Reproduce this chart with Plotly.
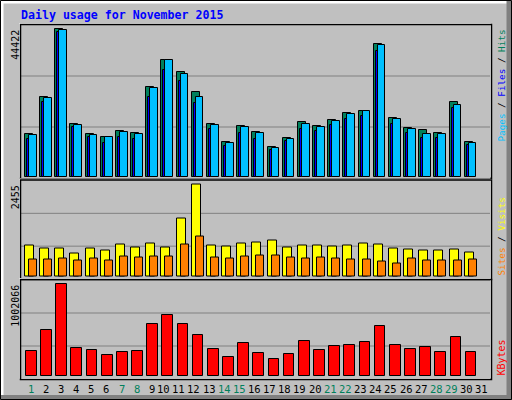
import datetime
import plotly.graph_objects as go

# ---------------- data ----------------
days = list(range(1, 32))
day_labels = [str(d) for d in days]
data_days = list(range(1, 31))

hits = [12760, 23920, 44422, 15780, 12760, 11960, 13670, 13070, 26930, 35080,
        31560, 25430, 15780, 10350, 15180, 13370, 8950, 11660, 16380, 15180,
        16990, 19100, 19700, 40000, 17590, 14570, 13970, 13070, 22410, 10350]
files = [11360, 22410, 43520, 14870, 11860, 10050, 11860, 11260, 23920, 32160,
         28740, 22110, 14270, 9150, 13070, 11260, 7940, 10650, 14270, 13670,
         15480, 17290, 18190, 37890, 15780, 13070, 11560, 11560, 20600, 9450]
pages = [12460, 23620, 44300, 15480, 12460, 11960, 13370, 12760, 26630, 35070,
         30850, 23920, 15480, 10050, 14870, 13070, 8640, 11260, 15780, 14870,
         16680, 18790, 19700, 39700, 17290, 14270, 12760, 12760, 21510, 10050]
visits = [827, 747, 747, 614, 747, 694, 854, 774, 881, 774,
          1548, 2455, 827, 801, 881, 907, 961, 774, 827, 827,
          801, 827, 881, 854, 747, 721, 694, 694, 721, 640]
sites = [454, 454, 480, 427, 480, 427, 534, 507, 534, 534,
         854, 1067, 507, 480, 534, 547, 560, 507, 480, 507,
         480, 454, 454, 400, 347, 480, 427, 427, 427, 454]
kbytes = [266956, 497400, 1002066, 299900, 277950, 223100, 256000, 266960, 563200, 661950,
          563200, 442500, 288900, 201150, 354750, 245000, 179200, 234050, 376700, 277950,
          321800, 332800, 365700, 541250, 332800, 288900, 310850, 256000, 420600, 256000]

title_text = "Daily usage for November 2015"

# ---------------- geometry helpers ----------------
W, H = 512, 400
PX0, PX1 = 21, 491
SLOT = (PX1 - PX0) / 31.0


def px(x):
    return x / W


def py(y):
    return 1 - y / H


def u(pixels):
    return pixels / SLOT


def axis_range(maxval, top, bottom, base, maxtop):
    scale = maxval / (base - maxtop)
    return [-(bottom - base) * scale, (base - top) * scale]


panels = {
    "y": dict(top=25, bottom=178, base=176.7, maxtop=29.3, maxval=max(hits)),
    "y2": dict(top=180.5, bottom=279, base=276.3, maxtop=184.3, maxval=max(visits)),
    "y3": dict(top=280, bottom=379, base=375.7, maxtop=284.3, maxval=max(kbytes)),
}

GREEN = "#00805C"
BLUE = "#0000FF"
CYAN = "#00C0FF"
YELLOW = "#FFFF00"
ORANGE = "#FF8000"
RED = "#FF0000"
BG = "#C0C0C0"
GRID = "#808080"
MONO = "DejaVu Sans Mono"

fig = go.Figure()
line = dict(color="black", width=1)


def add_bar(y, color, yaxis, left_px, width_px):
    fig.add_trace(go.Bar(
        x=data_days, y=y, yaxis=yaxis, xaxis="x",
        marker=dict(color=color, line=line),
        width=u(width_px), offset=u(left_px - SLOT / 2),
        showlegend=False, hoverinfo="skip"))


add_bar(hits, GREEN, "y", 4, 8)
add_bar(files, BLUE, "y", 6, 8)
add_bar(pages, CYAN, "y", 8, 7.7)
add_bar(visits, YELLOW, "y2", 4, 9)
add_bar(sites, ORANGE, "y2", 8, 8)
add_bar(kbytes, RED, "y3", 5, 10.7)

layout = dict(
    width=W, height=H, margin=dict(l=0, r=0, t=0, b=0),
    paper_bgcolor=BG, plot_bgcolor=BG, barmode="overlay", bargap=0,
    xaxis=dict(domain=[px(PX0), px(PX1)], range=[0.5, 31.5], visible=False,
               fixedrange=True),
)
for name, p in panels.items():
    key = "yaxis" if name == "y" else "yaxis" + name[1:]
    layout[key] = dict(
        domain=[py(p["bottom"]), py(p["top"])],
        range=axis_range(p["maxval"], p["top"], p["bottom"], p["base"], p["maxtop"]),
        visible=False, fixedrange=True, anchor="x")
fig.update_layout(**layout)

shapes = []
# grid lines at thirds of each panel
for name in panels:
    for f in (1 / 3, 2 / 3):
        shapes.append(dict(type="line", xref="x domain", yref=name + " domain",
                           x0=0, x1=1, y0=f, y1=f, line=dict(color=GRID, width=1),
                           layer="below"))
# panel frames (etched: white offset + black)
for name, p in panels.items():
    shapes.append(dict(type="rect", xref="paper", yref="paper",
                       x0=px(PX0 - 1.5), x1=px(PX1 - 0.5),
                       y0=py(p["bottom"] - 0.5), y1=py(p["top"] - 1.5),
                       line=dict(color="white", width=1), layer="above"))
    shapes.append(dict(type="rect", xref="paper", yref="paper",
                       x0=px(PX0 - 0.5), x1=px(PX1 + 0.5),
                       y0=py(p["bottom"] + 0.5), y1=py(p["top"] - 0.5),
                       line=dict(color="black", width=1.5), layer="above"))
# outer bevel border
shapes += [
    dict(type="rect", xref="paper", yref="paper", x0=px(1), x1=px(507), y0=py(3.5), y1=py(1),
         fillcolor="white", line=dict(width=0)),
    dict(type="rect", xref="paper", yref="paper", x0=px(1), x1=px(3.5), y0=py(395), y1=py(1),
         fillcolor="white", line=dict(width=0)),
    dict(type="rect", xref="paper", yref="paper", x0=px(506.5), x1=px(512), y0=py(400), y1=py(1),
         fillcolor=GRID, line=dict(width=0)),
    dict(type="rect", xref="paper", yref="paper", x0=px(1), x1=px(512), y0=py(400), y1=py(395),
         fillcolor=GRID, line=dict(width=0)),
    dict(type="rect", xref="paper", yref="paper", x0=px(0.5), x1=px(511.5), y0=py(399.5), y1=py(0.5),
         line=dict(color="black", width=1)),
]
fig.update_layout(shapes=shapes)

ann = []
ann.append(dict(text="<b>" + title_text + "</b>", xref="paper", yref="paper",
                x=px(19), y=py(15.5), xanchor="left", yanchor="middle", showarrow=False,
                font=dict(family=MONO, size=11.6, color=BLUE)))
# max value labels (left, rotated)
for name, val in (("y", max(hits)), ("y2", max(visits)), ("y3", max(kbytes))):
    p = panels[name]
    ann.append(dict(text=str(val), xref="paper", yref="paper", x=px(15.3), y=py(p["top"] + 2.5),
                    xanchor="center", yanchor="top", textangle=-90, showarrow=False,
                    font=dict(family=MONO, size=10, color="black")))
# right side legends
sl = '<span style="color:black"> / </span>'
ann.append(dict(text='<span style="color:%s">Pages</span>%s<span style="color:%s">Files</span>%s<span style="color:%s">Hits</span>'
                % (CYAN, sl, BLUE, sl, GREEN),
                xref="paper", yref="paper", x=px(501), y=py(27.5), xanchor="center", yanchor="top",
                textangle=-90, showarrow=False, font=dict(family=MONO, size=9.3)))
ann.append(dict(text='<span style="color:%s">Sites</span>%s<span style="color:%s">Visits</span>'
                % (ORANGE, sl, YELLOW),
                xref="paper", yref="paper", x=px(501), y=py(277.5), xanchor="center", yanchor="bottom",
                textangle=-90, showarrow=False, font=dict(family=MONO, size=9.3)))
ann.append(dict(text="KBytes", xref="paper", yref="paper", x=px(501), y=py(377.5),
                xanchor="center", yanchor="bottom", textangle=-90, showarrow=False,
                font=dict(family=MONO, size=10, color=RED)))
# day labels
for d, lab in zip(days, day_labels):
    wk = d <= 30 and datetime.date(2015, 11, d).weekday() >= 5
    ann.append(dict(text=lab, xref="x", yref="paper", x=d + u(7), y=py(389),
                    xanchor="right", yanchor="middle", showarrow=False,
                    font=dict(family=MONO, size=10.5, color=GREEN if wk else "black")))
fig.update_layout(annotations=ann)

fig.write_html("out.html", config={"displayModeBar": False},
               post_script="document.body.style.margin='0';document.body.style.overflow='hidden';")
